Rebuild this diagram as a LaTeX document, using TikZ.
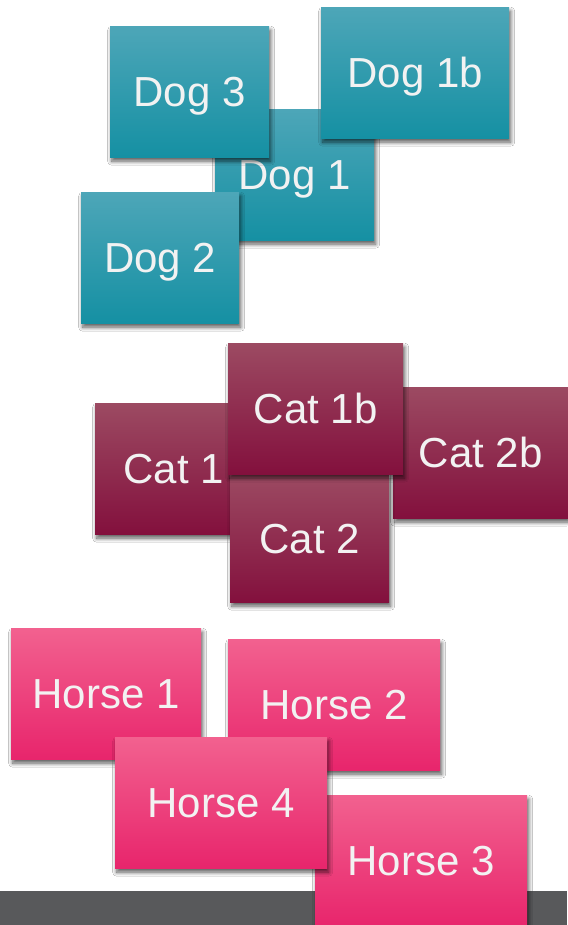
\documentclass[tikz,border=0pt]{standalone}
\usepackage{fontspec}
\setmainfont{Liberation Sans}
\usetikzlibrary{shadows.blur}
\definecolor{dogtop}{HTML}{4DA6B8}
\definecolor{dogmid}{HTML}{1E9BAF}
\definecolor{dogbot}{HTML}{1590A3}
\definecolor{cattop}{HTML}{9C4A62}
\definecolor{catmid}{HTML}{8E1B48}
\definecolor{catbot}{HTML}{83103D}
\definecolor{hortop}{HTML}{F2618F}
\definecolor{hormid}{HTML}{F3367D}
\definecolor{horbot}{HTML}{E8256C}
\definecolor{bargray}{HTML}{58595B}
\definecolor{txt}{HTML}{F2F2F2}
\tikzset{
  card/.style={anchor=north west, inner sep=0pt, minimum height=131pt,
    text=txt, font=\fontsize{42}{42}\selectfont, text height=30pt, text depth=0pt,
    blur shadow={shadow xshift=1.5pt, shadow yshift=-4pt, shadow blur radius=4pt, shadow blur steps=8, shadow opacity=65}},
  dogcard/.style={card, top color=dogtop, middle color=dogmid, bottom color=dogbot},
  catcard/.style={card, top color=cattop, middle color=catmid, bottom color=catbot},
  horcard/.style={card, top color=hortop, middle color=hormid, bottom color=horbot},
}
\begin{document}
\begin{tikzpicture}[x=1pt,y=1pt]
\useasboundingbox (0,0) rectangle (567,-925);
\fill[white] (0,0) rectangle (567,-925);
% Dogs
\node[dogcard, minimum width=159pt] (dogone) at (215,-109) {Dog 1};
\node[dogcard, minimum width=159pt] (dogthree) at (110,-26) {Dog 3};
\node[dogcard, minimum width=188pt] (dogoneb) at (321,-7) {Dog 1b};
\node[dogcard, minimum width=158pt] (dogtwo) at (81,-192) {Dog 2};
% Cats
\node[catcard, minimum width=157pt] (catone) at (95,-403) {Cat 1};
\node[catcard, minimum width=175pt] (cattwob) at (393,-387) {Cat 2b};
\node[catcard, minimum width=159pt, minimum height=128pt] (cattwo) at (230,-474) {Cat 2};
\node[catcard, minimum width=175pt] (catoneb) at (228,-343) {Cat 1b};
% bar
\fill[bargray] (0,-891) rectangle (567,-925);
% Horses
\node[horcard, minimum width=190pt] (horone) at (11,-628) {Horse 1};
\node[horcard, minimum width=212pt] (hortwo) at (228,-639) {Horse 2};
\node[horcard, minimum width=212pt] (horthree) at (315,-795) {Horse 3};
\node[horcard, minimum width=212pt] (horfour) at (115,-737) {Horse 4};
\end{tikzpicture}
\end{document}
